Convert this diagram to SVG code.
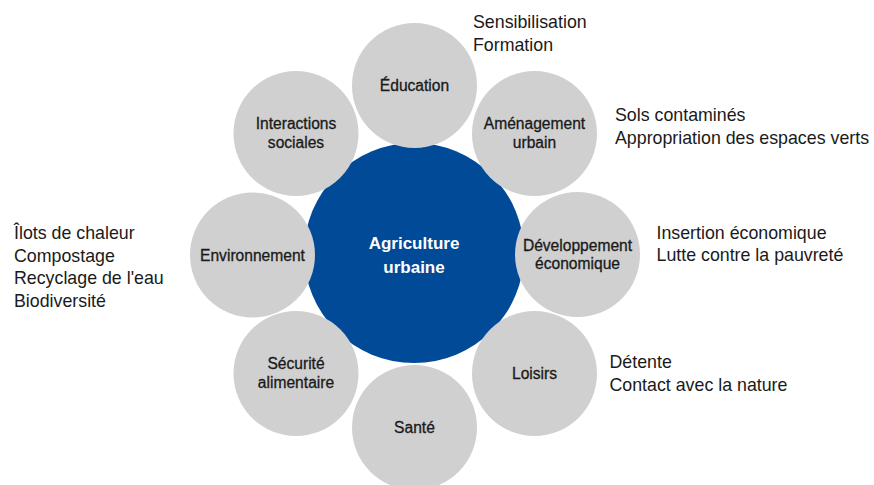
<svg xmlns="http://www.w3.org/2000/svg" width="874" height="485" viewBox="0 0 874 485">
<style>
.sat{fill:#d0d0d0}
.core{fill:#004a98}
.lbl{font-family:"Liberation Sans",Arial,sans-serif;font-size:15.6px;fill:#1a1a1a;stroke:#1a1a1a;stroke-width:0.3px;text-anchor:middle}
.core-lbl{font-family:"Liberation Sans",Arial,sans-serif;font-size:17px;font-weight:bold;fill:#ffffff;text-anchor:middle}
.note{font-family:"Liberation Sans",Arial,sans-serif;font-size:17.8px;fill:#1a1a1a}
</style>
<rect width="874" height="485" fill="#ffffff"/>
<g id="connectors"></g>
<g id="center">
<circle class="core" cx="414" cy="253" r="110"/>
<text class="core-lbl" x="414" y="248.5">Agriculture</text>
<text class="core-lbl" x="414" y="272.5">urbaine</text>
</g>
<g id="interactions">
<circle class="sat" cx="296" cy="133.5" r="62.5"/>
<text class="lbl" x="296" y="129">Interactions</text>
<text class="lbl" x="296" y="147.5">sociales</text>
</g>
<g id="amenagement">
<circle class="sat" cx="534.5" cy="133.5" r="62.5"/>
<text class="lbl" x="534.5" y="129">Aménagement</text>
<text class="lbl" x="534.5" y="147.5">urbain</text>
</g>
<g id="education">
<circle class="sat" cx="414.5" cy="85.5" r="62.5"/>
<text class="lbl" x="414.5" y="91">Éducation</text>
</g>
<g id="environnement">
<circle class="sat" cx="252.5" cy="255" r="62.5"/>
<text class="lbl" x="252.5" y="260.5">Environnement</text>
</g>
<g id="developpement">
<circle class="sat" cx="577.5" cy="254.5" r="62.5"/>
<text class="lbl" x="577.5" y="250.5">Développement</text>
<text class="lbl" x="577.5" y="269">économique</text>
</g>
<g id="securite">
<circle class="sat" cx="296" cy="373.5" r="62.5"/>
<text class="lbl" x="296" y="369">Sécurité</text>
<text class="lbl" x="296" y="387.5">alimentaire</text>
</g>
<g id="loisirs">
<circle class="sat" cx="534.5" cy="373.5" r="62.5"/>
<text class="lbl" x="534.5" y="379">Loisirs</text>
</g>
<g id="sante">
<circle class="sat" cx="414.5" cy="427.5" r="62.5"/>
<text class="lbl" x="414.5" y="433">Santé</text>
</g>
<g id="notes">
<text class="note" x="473" y="28">Sensibilisation</text>
<text class="note" x="473" y="50.5">Formation</text>
<text class="note" x="615" y="121">Sols contaminés</text>
<text class="note" x="615" y="143.5">Appropriation des espaces verts</text>
<text class="note" x="656.5" y="238.5">Insertion économique</text>
<text class="note" x="656.5" y="261">Lutte contre la pauvreté</text>
<text class="note" x="14" y="239">Îlots de chaleur</text>
<text class="note" x="14" y="261.5">Compostage</text>
<text class="note" x="14" y="284">Recyclage de l'eau</text>
<text class="note" x="14" y="306.5">Biodiversité</text>
<text class="note" x="609.5" y="368">Détente</text>
<text class="note" x="609.5" y="390.5">Contact avec la nature</text>
</g>
</svg>
